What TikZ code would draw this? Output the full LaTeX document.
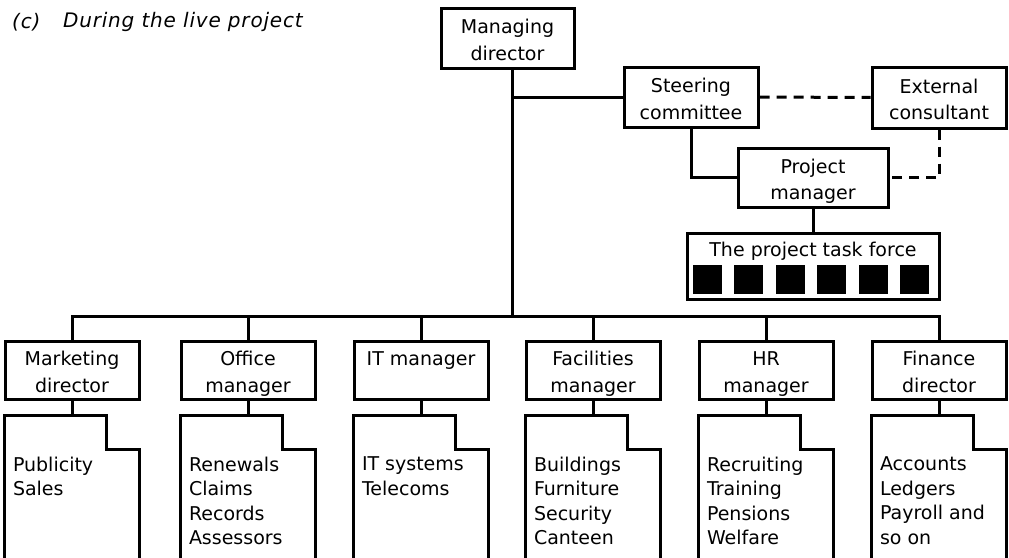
\documentclass[tikz,border=0pt]{standalone}
\usepackage{fontspec}
\setmainfont{DejaVu Sans}
\usepackage{xcolor}
\usepackage{tikz}
\usetikzlibrary{positioning}

\newcommand{\orgfont}{\fontsize{19}{26.5}\selectfont}
\newcommand{\titlefont}{\fontsize{20}{24}\selectfont\itshape\addfontfeature{LetterSpace=4}}
% struts that keep every two-line box at the same height
\newcommand{\topstrut}{\rule{0pt}{22.5pt}}
\newcommand{\footstrut}{\rule[-5pt]{0pt}{5pt}}

\begin{document}
\begin{tikzpicture}[x=1pt, y=-1pt,
    line/.style={line width=3pt},
    dashline/.style={line width=3pt, dash pattern=on 10pt off 7pt},
    post/.style={draw, rectangle, line width=3pt, minimum width=134pt, minimum height=58pt, inner sep=0pt, align=center, font=\orgfont},
    folder/.style={rectangle, minimum width=134pt, minimum height=150pt, inner sep=0pt},
    duties/.style={inner sep=0pt, align=left, font=\fontsize{19}{24.5}\selectfont},
    member/.style={rectangle, fill=black, minimum size=29pt, inner sep=0pt}]
    \useasboundingbox (0,0) rectangle (1009,557);

    % heading
    \node[font=\titlefont, anchor=west, inner sep=0pt] (tag) at (12,22) {(c)};
    \node[font=\titlefont, anchor=west, inner sep=0pt] (caption) at (63,22) {During the live project};

    % top of the tree
    \node[post, minimum width=133pt, minimum height=60pt] (md) at (507.5,38) {\topstrut Managing\\director\footstrut};
    \node[post, minimum height=60pt] (sc) at (691,97) {\topstrut Steering\\committee\footstrut};
    \node[post, minimum height=61pt] (ec) at (939,97.5) {\topstrut External\\consultant\footstrut};
    \node[post, minimum width=150pt, minimum height=59pt] (pm) at (813,177.5) {\topstrut Project\\manager\footstrut};
    \node[draw, line width=3pt, minimum width=252pt, minimum height=66pt] (tf) at (813,266) {};
    \node[font=\orgfont, inner sep=0pt] (tf-title) at (813,251) {The project task force};
    \foreach \i in {0,...,5}
        \node[member, anchor=south west] (member\i) at ([shift={(7pt+41.5pt*\i,6pt)}]tf.south west) {};

    \coordinate (bus) at (512,316);
    \draw[line] (md.south -| bus) -- (bus);
    \draw[line] (sc.west) -- (sc.west -| bus);
    \draw[line] (sc.south) |- (pm.west);
    \draw[line] (pm) -- (tf);
    \draw[dashline] (sc) -- (ec);
    \draw[dashline] (ec.south) |- (pm.east);

    % departments
    \foreach \n/\x/\boss/\items in {
        mkt/72/{Marketing\\director}/{Publicity\\Sales},
        office/248/{Office\\manager}/{Renewals\\Claims\\Records\\Assessors},
        it/421/{IT manager\\~}/{IT systems\\Telecoms},
        facil/593/{Facilities\\manager}/{Buildings\\Furniture\\Security\\Canteen},
        hr/766/{HR\\manager}/{Recruiting\\Training\\Pensions\\Welfare},
        fin/939/{Finance\\director}/{Accounts\\Ledgers\\Payroll and\\so on}}
    {
        \node[post] (\n) at (\x,370) {\topstrut\boss\footstrut};
        \node[folder, below=15pt of \n] (\n-list) {};
        \draw[line] (\n-list.south west) -- (\n-list.north west) -- ([xshift=-33pt]\n-list.north east)
            |- ([yshift=-34pt]\n-list.north east) -- (\n-list.south east);
        \node[duties, anchor=north west] (\n-text) at ([shift={(8pt,-41pt)}]\n-list.north west) {\items};
        \draw[line] (\n) -- (\n-list);
    }

    \draw[line] (mkt.north) |- (bus) -| (fin.north);
    \foreach \n in {office, it, facil, hr}
        \draw[line] (\n.north) -- (\n.north |- bus);
\end{tikzpicture}
\end{document}
